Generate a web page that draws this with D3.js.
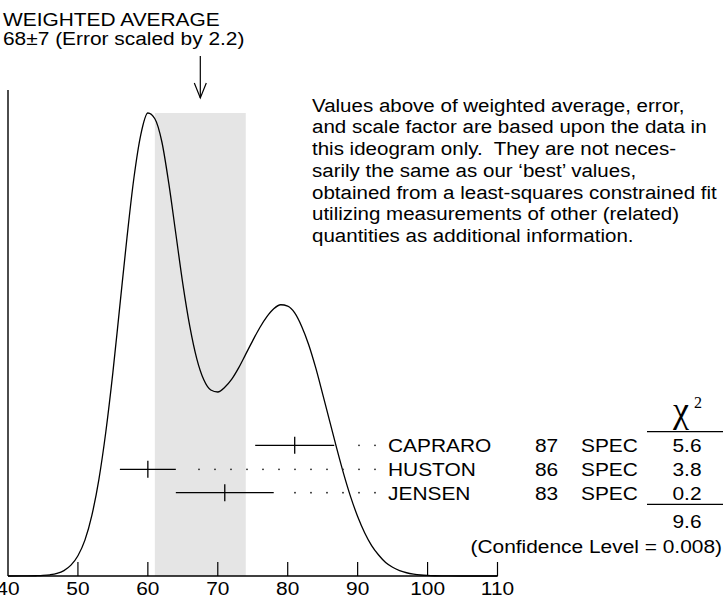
<!DOCTYPE html>
<html>
<head>
<meta charset="utf-8">
<script src="https://cdn.jsdelivr.net/npm/d3@7"></script>
<style>
  body { margin: 0; background: #fff; }
  svg { display: block; }
  text { font-family: "Liberation Sans", Arial, sans-serif; font-size: 19px; fill: #000; }
</style>
</head>
<body>
<div id="chart"></div>
<script>
// measurements
const names = ["CAPRARO", "HUSTON", "JENSEN"];
const years = ["87", "86", "83"];
const techs = ["SPEC", "SPEC", "SPEC"];
const values = [81, 60, 71];
const errors = [5.65, 4.0, 7.0];
const chi2 = ["5.6", "3.8", "0.2"];
const chi2Total = "9.6";
const confLevel = "(Confidence Level = 0.008)";

// weighted average
const avgValue = 67.5;
const avgError = 6.5;
const titleLines = ["WEIGHTED AVERAGE", "68\u00b17 (Error scaled by 2.2)"];

const xTicks = [40, 50, 60, 70, 80, 90, 100, 110];

// ideogram curve (arbitrary height units)
const curveX = [40, 42, 44, 45, 46, 47, 48, 49, 50, 51, 52, 53, 54, 55, 56, 57, 58, 59, 60,
  61, 62, 63, 64, 65, 66, 67, 68, 69, 70, 71, 72, 73, 74, 75, 76, 77, 78, 79, 80,
  81, 82, 83, 84, 85, 86, 87, 88, 89, 90, 91, 92, 93, 94, 95, 96, 97, 98, 99, 100,
  101, 102, 103, 105, 110];
const curveY = [0, 0.01, 0.04, 0.08, 0.18, 0.38, 0.8, 1.6, 3.0, 5.3, 9.0, 14.3, 21.4, 30.1, 40.0, 49.9, 58.8, 65.3, 68.45,
  67.6, 64.2, 58.0, 50.6, 43.2, 36.9, 32.1, 29.0, 27.5, 27.2, 27.9, 29.1, 30.8, 32.8, 34.8, 36.7, 38.3, 39.5, 40.1, 39.9,
  38.9, 36.9, 34.2, 30.8, 26.9, 22.9, 18.9, 15.1, 11.7, 8.8, 6.4, 4.5, 3.1, 2.0, 1.3, 0.8, 0.48, 0.28, 0.15, 0.08,
  0.04, 0.02, 0.01, 0, 0];

const notes = [
  "Values above of weighted average, error,",
  "and scale factor are based upon the data in",
  "this ideogram only.  They are not neces-",
  "sarily the same as our \u2018best\u2019 values,",
  "obtained from a least-squares constrained fit",
  "utilizing measurements of other (related)",
  "quantities as additional information."
];

const W = 723, H = 605;
const SX = 1.1; // horizontal stretch of the lettering

const svg = d3.select("#chart").append("svg")
  .attr("width", W)
  .attr("height", H);

const x = d3.scaleLinear().domain([40, 110]).range([8, 497.5]);
const y = d3.scaleLinear().domain([0, d3.max(curveY)]).range([576, 113]);

function label(px, py, s, anchor, sx) {
  return svg.append("text")
    .attr("transform", `translate(${px},${py}) scale(${sx || SX},1)`)
    .attr("text-anchor", anchor || "start")
    .style("white-space", "pre")
    .text(s);
}

// shaded band for weighted average +- error
svg.append("rect")
  .attr("x", x(avgValue - avgError))
  .attr("y", y(d3.max(curveY)))
  .attr("width", x(avgValue + avgError) - x(avgValue - avgError))
  .attr("height", y(0) - y(d3.max(curveY)))
  .attr("fill", "#e5e5e5");

// axes
svg.append("line")
  .attr("x1", x(40)).attr("x2", x(110))
  .attr("y1", y(0)).attr("y2", y(0))
  .attr("stroke", "#000").attr("stroke-width", 1.4);
svg.append("line")
  .attr("x1", x(40)).attr("x2", x(40))
  .attr("y1", 90).attr("y2", y(0))
  .attr("stroke", "#000").attr("stroke-width", 1.4);

svg.selectAll(".tick")
  .data(xTicks.slice(1))
  .enter()
  .append("line")
  .attr("class", "tick")
  .attr("x1", (d) => x(d)).attr("x2", (d) => x(d))
  .attr("y1", y(0)).attr("y2", y(0) - 14)
  .attr("stroke", "#000").attr("stroke-width", 1.2);

xTicks.forEach((t) => label(x(t), 595, String(t), "middle"));

// ideogram
const line = d3.line()
  .x((d, i) => x(curveX[i]))
  .y((d) => y(d))
  .curve(d3.curveMonotoneX);

svg.append("path")
  .datum(curveY)
  .attr("d", line)
  .attr("fill", "none")
  .attr("stroke", "#000")
  .attr("stroke-width", 1.3);

// arrow at weighted average
const ax = x(avgValue);
svg.append("line")
  .attr("x1", ax).attr("x2", ax).attr("y1", 56).attr("y2", 98)
  .attr("stroke", "#000").attr("stroke-width", 1.2);
svg.append("path")
  .attr("d", `M${ax - 6},83 L${ax},98 L${ax + 6},83`)
  .attr("fill", "none").attr("stroke", "#000").attr("stroke-width", 1.2);

// title
label(3, 26, titleLines[0]);
label(3, 44.5, titleLines[1]);

// notes
notes.forEach((s, i) => label(312, 111.7 + i * 21.7, s, "start", 1.08));

// measurement rows
const rowY = [445.3, 469.3, 492.7];
const dotEnd = 375;

names.forEach((n, i) => {
  const ry = rowY[i];
  const lo = x(values[i] - errors[i]);
  const hi = x(values[i] + errors[i]);

  svg.append("line")
    .attr("x1", lo).attr("x2", hi).attr("y1", ry).attr("y2", ry)
    .attr("stroke", "#000").attr("stroke-width", 1.3);
  svg.append("line")
    .attr("x1", x(values[i])).attr("x2", x(values[i]))
    .attr("y1", ry - 8.5).attr("y2", ry + 8.5)
    .attr("stroke", "#000").attr("stroke-width", 1.3);

  // dotted leader
  for (let dx = dotEnd; dx >= hi + 16; dx -= 16) {
    svg.append("circle")
      .attr("cx", dx).attr("cy", ry).attr("r", 0.9)
      .attr("fill", "#222");
  }

  label(388, ry + 7, n);
  label(535, ry + 7, years[i]);
  label(581, ry + 7, techs[i]);
  label(687, ry + 7, chi2[i], "middle");
});

// chi-square header and sum
svg.append("text")
  .attr("x", 681).attr("y", 422)
  .attr("text-anchor", "middle")
  .style("font-family", "'Liberation Serif', 'Times New Roman', serif")
  .style("font-size", "36px")
  .text("\u03c7");
svg.append("text")
  .attr("x", 694).attr("y", 408)
  .style("font-family", "'Liberation Serif', 'Times New Roman', serif")
  .style("font-size", "16px")
  .text("2");

svg.append("line")
  .attr("x1", 647).attr("x2", 723).attr("y1", 431.7).attr("y2", 431.7)
  .attr("stroke", "#000").attr("stroke-width", 1.2);
svg.append("line")
  .attr("x1", 647).attr("x2", 723).attr("y1", 504.3).attr("y2", 504.3)
  .attr("stroke", "#000").attr("stroke-width", 1.2);

label(687, 528, chi2Total, "middle");
label(722, 553, confLevel, "end");
</script>
</body>
</html>
